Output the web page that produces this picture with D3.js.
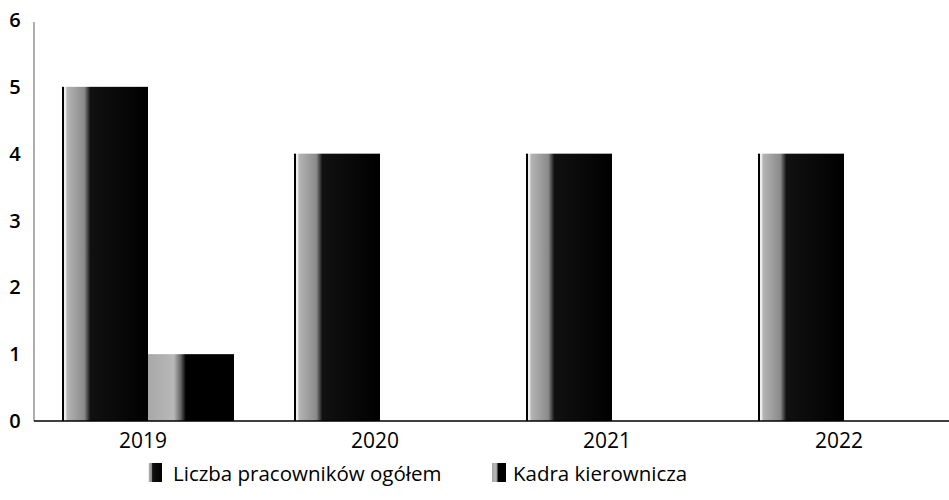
<!DOCTYPE html>
<html>
<head>
<meta charset="utf-8">
<script src="https://cdn.jsdelivr.net/npm/d3@7"></script>
<style>
  body { margin: 0; background: #fff; }
  svg text { font-family: "Open Sans", "Noto Sans", sans-serif; fill: #000; }
</style>
</head>
<body>
<svg id="chart" width="949" height="500"></svg>
<script>
const categories = ["2019", "2020", "2021", "2022"];
const seriesNames = ["Liczba pracowników ogółem", "Kadra kierownicza"];
const totalEmployees = [5, 4, 4, 4];
const managers = [1, 0, 0, 0];
const yTicks = [0, 1, 2, 3, 4, 5, 6];

const svg = d3.select("#chart");
const defs = svg.append("defs");

// fills imitating the scanned look: grey stripe on dark bar
const g1 = defs.append("linearGradient").attr("id", "fill0").attr("x1", 0).attr("x2", 1).attr("y1", 0).attr("y2", 0);
[["0%", "#000"], ["2%", "#000"], ["2%", "#eee"], ["4%", "#eee"], ["6%", "#b4b4b4"], ["26%", "#8a8a8a"], ["33%", "#111"], ["100%", "#000"]]
  .forEach(([o, c]) => g1.append("stop").attr("offset", o).attr("stop-color", c));
const g2 = defs.append("linearGradient").attr("id", "fill1").attr("x1", 0).attr("x2", 1).attr("y1", 0).attr("y2", 0);
[["0%", "#a8a8a8"], ["30%", "#b8b8b8"], ["38%", "#666"], ["44%", "#000"], ["100%", "#000"]]
  .forEach(([o, c]) => g2.append("stop").attr("offset", o).attr("stop-color", c));

const x = d3.scaleBand().domain(categories).range([32, 960]).paddingInner(0).paddingOuter(0);
const inner = d3.scaleBand().domain([0, 1]).range([30, x.bandwidth() - 30]).padding(0);
const y = d3.scaleLinear().domain([0, 6]).range([421, 20]);

// y axis line
svg.append("line").attr("x1", 34).attr("x2", 34).attr("y1", y(6) + 2).attr("y2", y(0))
  .attr("stroke", "#777").attr("stroke-width", 1.2);

// y tick labels
svg.append("g").selectAll("text").data(yTicks).join("text")
  .attr("x", 15).attr("y", d => y(d)).attr("dy", "0.35em")
  .attr("text-anchor", "middle").attr("font-size", 20).attr("font-weight", 600)
  .text(d => d);

const data = [totalEmployees, managers];
data.forEach((vals, si) => {
  svg.append("g").selectAll("rect").data(categories.map((c, i) => ({c, v: vals[i]})).filter(d => d.v > 0))
    .join("rect")
    .attr("x", d => x(d.c) + inner(si))
    .attr("width", inner.bandwidth())
    .attr("y", d => y(d.v))
    .attr("height", d => y(0) - y(d.v))
    .attr("fill", `url(#fill${si})`);
});

// x axis
const xAxis = svg.append("g").attr("transform", `translate(0,${y(0)})`)
  .call(d3.axisBottom(x).tickSize(0).tickPadding(12));
xAxis.select(".domain").attr("stroke", "#000").attr("stroke-width", 1.5).attr("d", `M34,0H949`);
xAxis.selectAll("text").attr("font-size", 21).attr("font-weight", 500).attr("dx", -5)
  .attr("font-family", "\"Open Sans\", sans-serif").attr("fill", "#000");

// legend
const legendX = [148, 492];
const legendTextX = [173, 513];
const legend = svg.append("g");
seriesNames.forEach((n, i) => {
  legend.append("rect").attr("x", legendX[i]).attr("y", 463).attr("width", 14).attr("height", 19)
    .attr("fill", `url(#fill${i})`);
  legend.append("text").attr("x", legendTextX[i]).attr("y", 481)
    .attr("font-size", 20.5).attr("font-weight", 500).text(n);
});
</script>
</body>
</html>
